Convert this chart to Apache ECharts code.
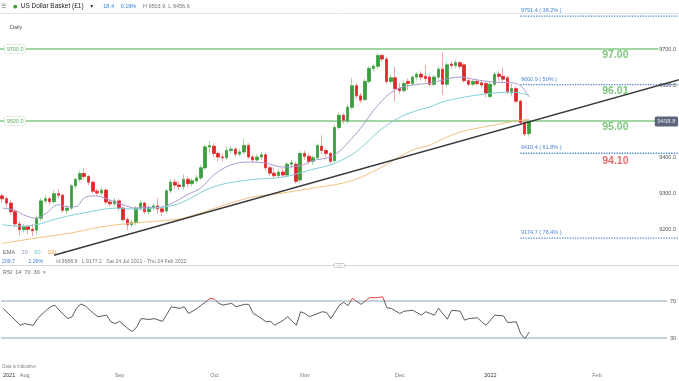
<!DOCTYPE html>
<html><head><meta charset="utf-8">
<script src="https://cdn.jsdelivr.net/npm/echarts/dist/echarts.min.js"></script>
<style>html,body{margin:0;padding:0;background:#fff}#c{width:679px;height:381px}</style>
</head><body><div id="c"></div>
<script>
// ---------- DATA ----------
const firstDay = '2021-07-26';
const lastDay = '2022-03-03';
const holidays = ['2021-12-24', '2021-12-31'];

// daily candles [open, close, low, high] from 26 Jul 2021 to 14 Jan 2022
const candles = [
[92.92,92.84,92.72,92.98],[92.84,92.72,92.60,92.90],[92.72,92.48,92.40,92.82],[92.48,92.14,92.05,92.52],[92.14,91.98,91.82,92.22],
[91.98,92.06,91.90,92.14],[92.06,91.99,91.86,92.12],[91.99,91.95,91.80,92.14],[91.97,92.30,91.85,92.38],[92.30,92.78,92.22,92.86],
[92.78,92.84,92.70,92.95],[92.84,92.76,92.66,92.90],[92.76,92.98,92.70,93.08],[92.98,92.94,92.86,93.10],[92.94,92.52,92.46,92.98],
[92.52,92.58,92.42,92.66],[92.58,93.20,92.52,93.26],[93.20,93.38,93.12,93.44],[93.38,93.54,93.30,93.62],[93.54,93.46,93.36,93.69],
[93.46,93.30,93.22,93.50],[93.30,93.05,92.98,93.34],[93.05,93.00,92.92,93.12],[93.00,93.08,92.94,93.16],[93.08,92.75,92.68,93.14],
[92.75,92.70,92.62,92.82],[92.70,92.78,92.62,92.86],[92.78,92.58,92.50,92.84],[92.58,92.26,92.20,92.62],[92.26,92.12,91.97,92.32],
[92.12,92.18,92.06,92.26],[92.18,92.58,92.10,92.64],[92.58,92.72,92.52,92.80],[92.72,92.48,92.42,92.76],[92.48,92.60,92.40,92.66],
[92.60,92.64,92.52,92.72],[92.64,92.56,92.42,92.86],[92.56,92.48,92.36,92.64],[92.50,93.06,92.42,93.12],[93.06,93.30,93.00,93.38],
[93.30,93.22,93.10,93.40],[93.22,93.18,93.08,93.34],[93.18,93.38,93.10,93.52],[93.38,93.26,93.15,93.46],[93.26,93.34,93.18,93.42],
[93.34,93.42,93.26,93.50],[93.42,93.70,93.36,93.78],[93.70,94.28,93.64,94.34],[94.28,94.32,94.12,94.45],[94.30,94.10,94.00,94.38],
[94.10,94.00,93.88,94.16],[94.00,93.98,93.88,94.10],[93.98,94.18,93.92,94.30],[94.18,94.22,94.10,94.30],[94.22,94.08,94.00,94.28],
[94.08,94.14,94.02,94.22],[94.14,94.32,94.08,94.50],[94.32,94.00,93.95,94.38],[94.00,93.92,93.84,94.06],[93.92,94.00,93.86,94.08],
[94.00,94.06,93.92,94.14],[94.06,93.70,93.62,94.12],[93.70,93.55,93.48,93.76],[93.55,93.48,93.40,93.72],[93.48,93.58,93.42,93.66],
[93.58,93.50,93.44,93.68],[93.50,93.80,93.44,93.86],[93.80,93.84,93.70,93.92],[93.80,93.32,93.26,93.86],[93.36,94.10,93.30,94.16],
[94.10,94.02,93.92,94.18],[94.02,93.88,93.80,94.10],[93.88,93.98,93.78,94.04],[93.98,94.32,93.92,94.38],[94.30,94.18,94.08,94.60],
[94.18,94.10,94.00,94.24],[94.10,93.88,93.82,94.14],[93.90,94.82,93.86,94.90],[94.82,95.16,94.76,95.24],[95.16,95.02,94.92,95.22],
[95.00,95.38,94.92,95.46],[95.38,95.98,95.32,96.20],[95.98,95.70,95.62,96.06],[95.70,95.58,95.50,95.78],[95.60,96.10,95.55,96.18],
[96.10,96.46,96.04,96.52],[96.46,96.52,96.38,96.60],[96.52,96.82,96.44,96.88],[96.82,96.72,96.64,96.88],[96.72,96.10,96.02,96.78],
[96.10,96.20,96.04,96.30],[96.20,95.90,95.54,96.50],[95.90,95.84,95.74,96.06],[95.84,96.04,95.80,96.12],[96.10,96.04,95.86,96.18],
[96.04,96.22,95.98,96.28],[96.22,96.30,96.12,96.36],[96.30,96.22,96.12,96.38],[96.24,96.18,96.08,96.55],[96.22,96.02,95.96,96.30],
[96.02,96.22,95.96,96.28],[96.22,96.44,96.16,96.52],[96.44,96.02,95.72,96.90],[96.02,96.56,95.94,96.64],[96.58,96.54,96.44,96.66],
[96.54,96.62,96.46,96.70],[96.62,96.52,96.44,96.66],[96.56,96.12,96.06,96.60],[96.12,96.02,95.96,96.18],[96.02,96.10,95.96,96.16],
[96.10,96.04,95.98,96.18],[96.06,96.00,95.92,96.14],[96.04,95.78,95.66,96.10],[95.68,96.02,95.62,96.08],[96.02,96.30,95.96,96.36],
[96.30,96.24,96.12,96.38],[96.24,96.16,96.08,96.48],[96.20,95.82,95.74,96.26],[95.78,95.90,95.68,96.04],[95.90,95.55,95.50,95.96],
[95.55,94.96,94.90,95.60],[94.96,94.64,94.58,95.02],[94.65,94.988,94.566,95.039]
];

// EMA lines: [candle index, value]
const ema20 = [[0,92.58],[3,92.52],[5,92.39],[8,92.30],[10,92.42],[13,92.67],[15,92.62],[17,92.62],[19,92.86],[21,92.92],[23,92.89],[26,92.75],[28,92.67],[31,92.58],[33,92.60],[36,92.60],[38,92.64],[41,92.82],[43,92.96],[46,93.14],[49,93.50],[53,93.78],[57,93.86],[61,93.83],[65,93.72],[69,93.76],[72,93.90],[76,94.00],[78,94.15],[80,94.39],[83,94.80],[87,95.44],[91,95.86],[95,96.00],[99,96.05],[102,96.14],[106,96.22],[110,96.14],[114,96.08],[118,96.06],[120,95.98],[122,95.67]];
const ema50 = [[0,92.12],[4,92.08],[8,92.12],[12,92.26],[16,92.38],[20,92.47],[23,92.54],[27,92.58],[31,92.55],[35,92.58],[39,92.64],[42,92.76],[49,93.17],[57,93.36],[65,93.44],[69,93.56],[72,93.66],[76,93.78],[80,94.00],[83,94.25],[87,94.69],[91,95.03],[95,95.25],[99,95.39],[102,95.53],[106,95.64],[110,95.72],[114,95.78],[118,95.80],[122,95.72]];
const ema100 = [[0,91.60],[8,91.75],[16,91.89],[23,92.06],[31,92.17],[39,92.25],[42,92.30],[57,92.86],[65,93.00],[72,93.14],[80,93.31],[86,93.60],[95,94.19],[99,94.33],[102,94.50],[106,94.69],[110,94.80],[114,94.89],[118,94.98],[122,95.05]];

// RSI(14): [candle index, value]
const rsi = [[0,62],[2,53],[4,43.8],[5,45.6],[6,44.5],[7,43.8],[8,51],[10,60],[11,63.8],[12,65.6],[13,60],[15,51],[16,53],[17,62],[18,66.7],[19,65],[21,56.5],[22,53],[24,54.7],[25,47.5],[26,45.6],[27,48],[29,40],[30,37],[31,42],[32,51],[34,50],[35,51],[37,48],[39,63.8],[41,62],[42,63.8],[43,56.5],[45,62],[46,65.6],[48,72.9],[49,72],[50,67.5],[51,65.6],[53,67.5],[54,63.8],[56,66.4],[57,66.4],[58,56.5],[59,54],[61,47.5],[62,48],[63,43.8],[65,49.3],[66,53],[68,43.8],[69,58.4],[70,56.5],[71,53],[72,54.7],[74,58.4],[75,57.6],[76,51],[78,65.6],[79,68.5],[80,65],[81,72.9],[83,66.4],[84,70],[85,73.6],[87,73.6],[88,74.7],[89,62.7],[90,62],[92,56.5],[93,59],[95,60],[97,54.7],[98,58.4],[100,54.7],[101,62],[103,50.4],[104,60],[106,59],[107,49.3],[108,51],[110,51.8],[111,47.5],[112,43.8],[114,54.7],[116,54],[117,46.7],[119,47.5],[120,34.7],[121,29.4],[122,36.5]];

// trend line anchors [candle index, value]
const trendLine = [[12,91.27],[157,96.155]];
// horizontal support / resistance levels
const levels = [97.00, 95.00];
// fibonacci retracements
const fibValues = [97.914, 96.009, 94.104, 91.747];
const fibNames = ['38.2%', '50%', '61.8%', '76.4%'];
// level captions
const captionTexts = ['97.00', '96.01', '95.00', '94.10'];
const captionValues = [97.00, 96.009, 95.00, 94.104];
const rsiLevels = [70, 30];

// ---------- CATEGORIES ----------
const cats = [];
(function () {
  const skip = new Set(holidays);
  let t = Date.parse(firstDay + 'T00:00:00Z');
  const end = Date.parse(lastDay + 'T00:00:00Z');
  while (t <= end) {
    const d = new Date(t);
    const wd = d.getUTCDay();
    const s = d.toISOString().slice(0, 10);
    if (wd !== 0 && wd !== 6 && !skip.has(s)) cats.push(s);
    t += 86400000;
  }
})();
const months = ['Jan','Feb','Mar','Apr','May','Jun','Jul','Aug','Sep','Oct','Nov','Dec'];

const FONT = 'Liberation Sans, Arial, sans-serif';
const GREEN = '#3a9d3e', RED = '#e0262b';
const lastIdx = candles.length - 1;
const lastClose = candles[lastIdx][1];
const bodies = candles.map(c => [c[0], c[1], Math.min(c[0], c[1]), Math.max(c[0], c[1])]);
const NC = cats.length;
const SLOT = 4.351;

const chart = echarts.init(document.getElementById('c'), null, {renderer: 'canvas'});

const series = [];
// candle wicks
series.push({
  type: 'candlestick', xAxisIndex: 0, yAxisIndex: 0, data: candles, barWidth: 3, z: 3,
  itemStyle: {color: '#a6d8a6', color0: '#f4a7a7', borderColor: '#a6d8a6', borderColor0: '#f4a7a7', borderWidth: 1}
});
// candle bodies
series.push({
  type: 'candlestick', xAxisIndex: 0, yAxisIndex: 0, data: bodies, barWidth: 3, z: 4,
  itemStyle: {color: GREEN, color0: RED, borderColor: GREEN, borderColor0: RED, borderWidth: 0.6}
});
// EMAs
[[ema20, '#a89bcf'], [ema50, '#7fcfd6'], [ema100, '#f1c27e']].forEach(([d, col]) => {
  series.push({type: 'line', xAxisIndex: 2, yAxisIndex: 0, data: d, smooth: 0.4, showSymbol: false, z: 5,
    lineStyle: {color: col, width: 1}, silent: true});
});
// trend line
series.push({type: 'line', xAxisIndex: 2, yAxisIndex: 0, data: trendLine, showSymbol: false, clip: false, z: 6,
  lineStyle: {color: '#3a3a3a', width: 1.4}, silent: true});
// horizontal levels with left boxes
levels.forEach(v => {
  series.push({type: 'line', xAxisIndex: 2, yAxisIndex: 0, data: [[-0.5, v], [152, v]], showSymbol: false, clip: false, z: 2,
    lineStyle: {color: '#86c986', width: 1.3}, silent: true,
    markPoint: {symbol: 'rect', symbolSize: 1, itemStyle: {color: 'transparent'}, silent: true,
      data: [{coord: [0, v], label: {show: true, position: 'right', distance: 2, formatter: (v * 100).toFixed(1),
        fontSize: 5.5, fontFamily: FONT, color: '#5aab5a', backgroundColor: '#fff', borderColor: '#c8d8c8', borderWidth: 0.6,
        borderRadius: 2, padding: [1, 2]}}]}
  });
});
// fibonacci lines
fibValues.forEach((v, k) => {
  series.push({type: 'line', xAxisIndex: 2, yAxisIndex: 0, data: [[120, v], [157, v]], showSymbol: false, clip: false, z: 2,
    lineStyle: {color: '#4a86cf', width: 1.3, type: [1.3, 1.3]}, silent: true,
    markPoint: {symbol: 'rect', symbolSize: 1, itemStyle: {color: 'transparent'}, silent: true,
      data: [{coord: [120, v], label: {show: true, position: [1, -8], formatter: (v * 100).toFixed(1) + ' ( ' + fibNames[k] + ' )',
        fontSize: 5.5, fontFamily: FONT, color: '#4a86cf'}}]}
  });
});
// captions
series.push({type: 'scatter', xAxisIndex: 2, yAxisIndex: 0, symbolSize: 1, clip: false, z: 7, silent: true,
  itemStyle: {color: 'transparent'},
  data: captionValues.map((v, k) => ({value: [142, v], label: {show: true, position: 'bottom',
    distance: k === 3 ? 2 : 0.5, formatter: captionTexts[k], fontSize: 10.5, fontWeight: 'bold', fontFamily: FONT,
    color: k === 3 ? '#e04848' : '#5cb65c'}}))
});
// price tag
series.push({type: 'scatter', xAxisIndex: 2, yAxisIndex: 0, symbolSize: 1, clip: false, z: 10, silent: true,
  itemStyle: {color: 'transparent'},
  data: [[151, lastClose]],
  label: {show: true, position: 'right', distance: 0, formatter: p => (p.value[1] * 100).toFixed(1),
    fontSize: 6, fontFamily: FONT, color: '#fff', backgroundColor: '#34405c', padding: [2, 2.5], borderRadius: 1.5}
});
// RSI guide lines
rsiLevels.forEach(v => {
  series.push({type: 'line', xAxisIndex: 3, yAxisIndex: 1, data: [[-0.5, v], [154, v]], showSymbol: false, clip: false,
    lineStyle: {color: '#8ea7c0', width: 1.1}, silent: true, z: 1});
});
// RSI
const rsiIndex = series.length;
series.push({type: 'line', xAxisIndex: 3, yAxisIndex: 1, data: rsi, showSymbol: false, z: 3,
  lineStyle: {width: 1}, silent: true});

const hiddenValueAxis = (g) => ({type: 'value', gridIndex: g, min: -0.5, max: NC - 0.5, show: false,
  axisLine: {show: false}, axisTick: {show: false}, axisLabel: {show: false}, splitLine: {show: false}});

const option = {
  animation: false,
  backgroundColor: '#fff',
  textStyle: {fontFamily: FONT},
  grid: [
    {left: -4.2, width: NC * SLOT, top: 13, height: 252, containLabel: false},
    {left: -4.2, width: NC * SLOT, top: 273.25, height: 92.5, containLabel: false}
  ],
  xAxis: [
    {type: 'category', gridIndex: 0, data: cats, boundaryGap: true,
      axisLine: {show: false}, axisTick: {show: false}, axisLabel: {show: false}, splitLine: {show: false}},
    {type: 'category', gridIndex: 1, data: cats, boundaryGap: true,
      axisLine: {show: false}, axisTick: {show: false}, splitLine: {show: false},
      axisLabel: {
        show: true, margin: 7, fontSize: 5.5, color: '#777', fontFamily: FONT,
        interval: (i, v) => (i === 0 || v.slice(5, 7) !== cats[i - 1].slice(5, 7)) && v.slice(0, 7) !== '2022-03',
        formatter: (v, i) => {
          const m = +v.slice(5, 7);
          if (i === 0) return '{y0|' + v.slice(0, 4) + '}';
          if (m === 1) return '{y|' + v.slice(0, 4) + '}';
          if (m === 2) return '{f|' + months[m - 1] + '}';
          return months[m - 1];
        },
        rich: {
          y0: {fontSize: 5.5, color: '#333', padding: [0, 0, 0, 12], fontFamily: FONT},
          y: {fontSize: 5.5, color: '#333', fontFamily: FONT},
          f: {fontSize: 5.5, color: '#777', padding: [0, 0, 0, 32], fontFamily: FONT}
        }
      }},
    hiddenValueAxis(0),
    hiddenValueAxis(1)
  ],
  yAxis: [
    {type: 'value', gridIndex: 0, position: 'right', min: 91, max: 98, interval: 1,
      axisLine: {show: false}, axisTick: {show: false}, splitLine: {show: false},
      axisLabel: {inside: true, margin: 2, fontSize: 5.5, color: '#555', fontFamily: FONT,
        formatter: v => (v === 91 || v === 98 || v === 95) ? '' : (v * 100).toFixed(1)}},
    {type: 'value', gridIndex: 1, position: 'right', min: 0, max: 100, interval: 10,
      axisLine: {show: false}, axisTick: {show: false}, splitLine: {show: false},
      axisLabel: {inside: true, margin: 2, fontSize: 5.5, color: '#555', fontFamily: FONT,
        formatter: v => (v === 70 || v === 30) ? String(v) : ''}}
  ],
  visualMap: {type: 'piecewise', show: false, seriesIndex: rsiIndex, dimension: 1,
    pieces: [{lt: 30, color: '#2e9e44'}, {gte: 30, lte: 70, color: '#5a5a5a'}, {gt: 70, color: '#e24545'}]},
  series: series,
  graphic: [
    {type: 'line', shape: {x1: 0, y1: 13.5, x2: 679, y2: 13.5}, style: {stroke: '#e4e4e4', lineWidth: 1}, silent: true},
    {type: 'text', x: 1, y: 6.5, silent: true, style: {
      text: '{m|☰}  {d|●} {t|US Dollar Basket (£1)}  {v|▾}   {c|18.4}  {c|0.19%}  {g|H 9503.9  L 9456.6}',
      verticalAlign: 'middle', fontFamily: FONT,
      rich: {
        m: {fontSize: 6, fill: '#666', fontFamily: 'DejaVu Sans'},
        d: {fontSize: 5, fill: '#3aa13a', fontFamily: 'DejaVu Sans'},
        t: {fontSize: 6.5, fill: '#222', fontFamily: FONT},
        v: {fontSize: 6, fill: '#444', fontFamily: 'DejaVu Sans'},
        c: {fontSize: 5.5, fill: '#2f7fd3', fontFamily: FONT},
        g: {fontSize: 5.5, fill: '#777', fontFamily: FONT}
      }}},
    {type: 'text', x: 10, y: 27, silent: true, style: {text: 'Daily', fontSize: 5.5, fill: '#555', fontFamily: FONT, verticalAlign: 'middle'}},
    {type: 'text', x: 3, y: 252.5, silent: true, style: {
      text: '{a|EMA}  {p|20}  {q|50}  {o|100}  {a|×}', verticalAlign: 'middle', fontFamily: FONT,
      rich: {
        a: {fontSize: 5.5, fill: '#666', fontFamily: FONT},
        p: {fontSize: 5.5, fill: '#9a8cc8', fontFamily: FONT},
        q: {fontSize: 5.5, fill: '#5ec2cb', fontFamily: FONT},
        o: {fontSize: 5.5, fill: '#eba54a', fontFamily: FONT}
      }}},
    {type: 'text', x: 2, y: 261.5, silent: true, style: {
      text: '{b|209.7}    {b|2.26%}    {g|H:9688.9   L:9177.2   Sat 24 Jul 2021 - Thu 24 Feb 2022}', verticalAlign: 'middle', fontFamily: FONT,
      rich: {
        b: {fontSize: 5.2, fill: '#3d7fd0', fontFamily: FONT},
        g: {fontSize: 5.2, fill: '#777', fontFamily: FONT}
      }}},
    {type: 'line', shape: {x1: 0, y1: 265.5, x2: 679, y2: 265.5}, style: {stroke: '#d8d8d8', lineWidth: 1}, silent: true},
    {type: 'rect', shape: {x: 334, y: 263.5, width: 11, height: 4, r: 1.5}, style: {fill: '#fff', stroke: '#b8b8b8', lineWidth: 0.7}, silent: true},
    {type: 'line', shape: {x1: 337, y1: 265.5, x2: 342, y2: 265.5}, style: {stroke: '#b8b8b8', lineWidth: 0.6}, silent: true},
    {type: 'text', x: 3, y: 272.5, silent: true, style: {text: 'RSI  14  70  30  ×', fontSize: 5.5, fill: '#666', fontFamily: FONT, verticalAlign: 'middle'}},
    {type: 'text', x: 2, y: 367, silent: true, style: {text: 'Data is indicative', fontSize: 4.5, fill: '#888', fontFamily: FONT, verticalAlign: 'middle'}}
  ]
};
chart.setOption(option);
</script>
</body></html>
